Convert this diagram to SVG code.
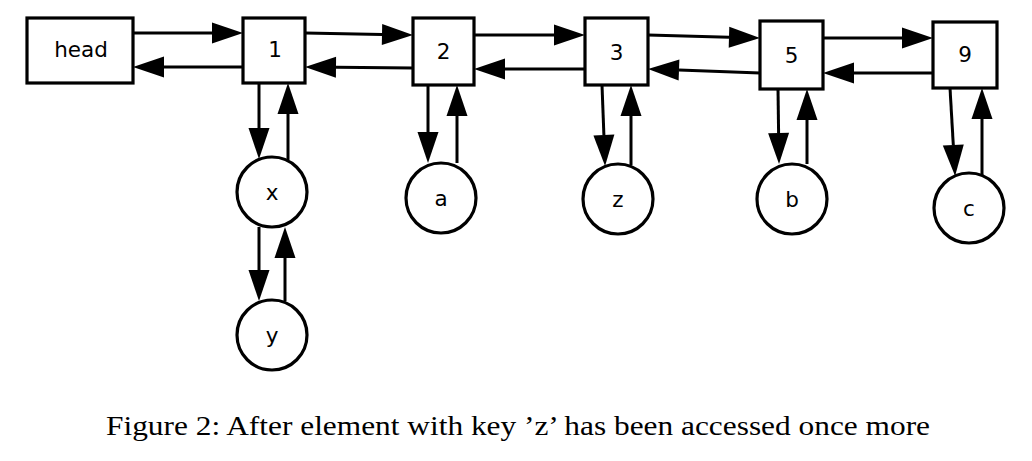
<svg xmlns="http://www.w3.org/2000/svg" width="1032" height="461" viewBox="0 0 1032 461">
<defs>
<marker id="ah" markerUnits="userSpaceOnUse" markerWidth="32" markerHeight="22" refX="0" refY="0" orient="auto" overflow="visible">
<path d="M0,-10.5 L31,0 L0,10.5 Z" fill="#000"/>
</marker>
<style>
.n rect, .n circle { fill: #fff; stroke: #000; stroke-width: 3.2; }
.n text { font-family: "DejaVu Sans", sans-serif; font-size: 21.5px; text-anchor: middle; fill: #000; }
#edges line { stroke: #000; stroke-width: 3; marker-end: url(#ah); }
.cap { font-family: "Liberation Serif", serif; font-size: 28px; fill: #000; }
</style>
</defs>
<rect width="1032" height="461" fill="#fff"/>
<g id="edges">
<line x1="133" y1="33" x2="212" y2="33"/>
<line x1="243" y1="67" x2="164" y2="67"/>
<line x1="305" y1="33" x2="382" y2="34.4"/>
<line x1="413" y1="68" x2="336" y2="67.3"/>
<line x1="474" y1="35" x2="554" y2="35"/>
<line x1="585" y1="69" x2="505" y2="69"/>
<line x1="648" y1="35" x2="729" y2="37.2"/>
<line x1="760" y1="73" x2="679" y2="70.1"/>
<line x1="823" y1="38" x2="902" y2="38"/>
<line x1="933" y1="73" x2="854" y2="73"/>
<line x1="259" y1="83" x2="259" y2="128"/>
<line x1="288" y1="160" x2="288" y2="114"/>
<line x1="259" y1="227" x2="259" y2="270"/>
<line x1="285" y1="301" x2="285" y2="258"/>
<line x1="428" y1="85" x2="428" y2="132"/>
<line x1="457" y1="163" x2="457" y2="116"/>
<line x1="602" y1="85" x2="603.9" y2="135"/>
<line x1="631" y1="165" x2="631" y2="116"/>
<line x1="778" y1="89" x2="778.6" y2="133"/>
<line x1="807" y1="164" x2="807" y2="120"/>
<line x1="950" y1="88" x2="953.3" y2="145"/>
<line x1="982" y1="175" x2="982" y2="119"/>
</g>
<g id="node-head" class="n"><rect x="27" y="18" width="106" height="65"/><text x="81" y="57">head</text></g>
<g id="node-1" class="n"><rect x="243" y="18" width="62" height="65"/><text x="275" y="57">1</text></g>
<g id="node-2" class="n"><rect x="413" y="18" width="61" height="67"/><text x="443.5" y="59">2</text></g>
<g id="node-3" class="n"><rect x="585" y="18" width="63" height="67"/><text x="616.5" y="60">3</text></g>
<g id="node-5" class="n"><rect x="760" y="21" width="63" height="68"/><text x="791.5" y="63">5</text></g>
<g id="node-9" class="n"><rect x="933" y="22" width="64" height="66"/><text x="965" y="62">9</text></g>
<g id="node-x" class="n"><circle cx="272" cy="192" r="35"/><text x="272" y="200">x</text></g>
<g id="node-y" class="n"><circle cx="272" cy="335" r="35"/><text x="272" y="343">y</text></g>
<g id="node-a" class="n"><circle cx="441" cy="198" r="35"/><text x="441" y="206">a</text></g>
<g id="node-z" class="n"><circle cx="618" cy="199" r="35"/><text x="618" y="207">z</text></g>
<g id="node-b" class="n"><circle cx="792" cy="199" r="35"/><text x="792" y="207">b</text></g>
<g id="node-c" class="n"><circle cx="969" cy="208" r="35"/><text x="969" y="216">c</text></g>
<text class="cap" x="106" y="435" textLength="824" lengthAdjust="spacingAndGlyphs">Figure 2: After element with key ’z’ has been accessed once more</text>
</svg>
